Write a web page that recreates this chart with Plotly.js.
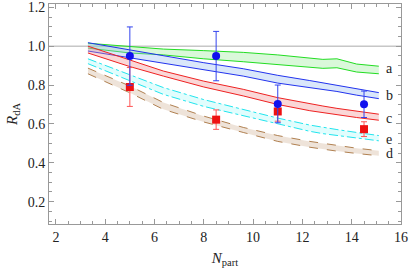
<!DOCTYPE html>
<html>
<head>
<meta charset="utf-8">
<script src="https://cdn.plot.ly/plotly-3.0.1.min.js"></script>
<style>html,body{margin:0;padding:0;background:#fff;}#chart{width:409px;height:273px;}</style>
</head>
<body>
<div id="chart"></div>
<script>
// Band curves (R_dA vs N_part)
const bandX = [3.3, 5, 6.36, 8, 9.6, 11, 12.3, 12.83, 13.4, 14.2, 15.1];
const aUpper = [1.015, 0.997, 0.985, 0.977, 0.968, 0.955, 0.94, 0.932, 0.935, 0.908, 0.897];
const aLower = [0.99, 0.965, 0.955, 0.935, 0.92, 0.905, 0.893, 0.886, 0.889, 0.867, 0.858];
const bUpper = [1.018, 0.98, 0.949, 0.915, 0.884, 0.85, 0.823, 0.812, 0.8, 0.78, 0.761];
const bLower = [0.975, 0.94, 0.915, 0.878, 0.846, 0.81, 0.786, 0.778, 0.767, 0.748, 0.73];
const cUpper = [1.0, 0.93, 0.872, 0.82, 0.778, 0.735, 0.703, 0.692, 0.68, 0.666, 0.65];
const cLower = [0.965, 0.895, 0.846, 0.79, 0.744, 0.7, 0.668, 0.658, 0.647, 0.633, 0.619];
const eUpper = [0.935, 0.855, 0.787, 0.725, 0.675, 0.63, 0.594, 0.582, 0.571, 0.556, 0.54];
const eLower = [0.91, 0.82, 0.752, 0.69, 0.641, 0.598, 0.562, 0.55, 0.54, 0.527, 0.513];
const dUpper = [0.887, 0.795, 0.71, 0.64, 0.582, 0.54, 0.51, 0.5, 0.488, 0.475, 0.462];
const dLower = [0.858, 0.76, 0.675, 0.61, 0.556, 0.51, 0.48, 0.47, 0.46, 0.448, 0.436];

// Data points
const ptX = [5, 8.5, 11, 14.5];
const blueY = [0.949, 0.949, 0.703, 0.701];
const blueErr = [0.15, 0.127, 0.097, 0.068];
const redY = [0.79, 0.622, 0.664, 0.573];
const redErr = [0.1, 0.05, 0.05, 0.038];

// Band labels
const labelText = ['a', 'b', 'c', 'e', 'd'];
const labelY = [0.884, 0.747, 0.629, 0.521, 0.449];
const labelX = 15.3;

const bands = [
  {lo: aLower, hi: aUpper, line: '#22dd22', fill: 'rgba(150,235,150,0.35)', dash: 'solid'},
  {lo: bLower, hi: bUpper, line: '#2233ee', fill: 'rgba(150,185,240,0.35)', dash: 'solid'},
  {lo: cLower, hi: cUpper, line: '#ee2222', fill: 'rgba(240,140,140,0.35)', dash: 'solid'},
  {lo: eLower, hi: eUpper, line: '#22e5ee', fill: 'rgba(170,250,250,0.35)', dash: 'dashdot'},
  {lo: dLower, hi: dUpper, line: '#b08050', fill: 'rgba(205,175,145,0.35)', dash: 'dash'}
];

const traces = [];
bands.forEach(b => {
  traces.push({x: bandX, y: b.lo, mode: 'lines', line: {color: b.line, width: 1, dash: b.dash}, hoverinfo: 'skip'});
  traces.push({x: bandX, y: b.hi, mode: 'lines', fill: 'tonexty', fillcolor: b.fill, line: {color: b.line, width: 1, dash: b.dash}, hoverinfo: 'skip'});
});
traces.push({x: ptX, y: redY, mode: 'markers', marker: {symbol: 'square', size: 8, color: '#ee1111'},
  error_y: {type: 'data', array: redErr, color: '#ff5555', thickness: 1, width: 3}});
traces.push({x: ptX, y: blueY, mode: 'markers', marker: {symbol: 'circle', size: 8, color: '#1111ee'},
  error_y: {type: 'data', array: blueErr, color: '#3344ee', thickness: 1, width: 3}});

const serif = 'Liberation Serif, Times New Roman, serif';
const axisCommon = {
  showgrid: false, zeroline: false, showline: true, linecolor: '#999', linewidth: 1,
  mirror: 'ticks', ticks: 'inside', ticklen: 5, tickcolor: '#999', tickwidth: 1,
  tickfont: {family: serif, size: 14, color: '#222'}
};

const layout = {
  width: 409, height: 273,
  margin: {l: 49, r: 8, t: 4, b: 49},
  paper_bgcolor: '#fff', plot_bgcolor: '#fff',
  showlegend: false,
  xaxis: Object.assign({}, axisCommon, {
    range: [1.72, 16], tickvals: [2, 4, 6, 8, 10, 12, 14, 16],
    minor: {dtick: 0.5, tick0: 0, ticks: 'inside', ticklen: 3, tickcolor: '#999'},
    title: {text: '<i>N</i><sub>part</sub>', font: {family: serif, size: 15, color: '#222'}, standoff: 8}
  }),
  yaxis: Object.assign({}, axisCommon, {
    range: [0.085, 1.217], tickvals: [0.2, 0.4, 0.6, 0.8, 1.0, 1.2], tickformat: '.1f',
    minor: {dtick: 0.05, tick0: 0, ticks: 'inside', ticklen: 3, tickcolor: '#999'},
    title: {text: '<i>R</i><sub>dA</sub>', font: {family: serif, size: 15, color: '#222'}, standoff: 6}
  }),
  shapes: [{type: 'line', xref: 'paper', x0: 0, x1: 1, yref: 'y', y0: 1, y1: 1, line: {color: '#aaa', width: 1}, layer: 'below'}],
  annotations: labelText.map((t, i) => ({x: labelX, y: labelY[i], xref: 'x', yref: 'y', text: t, showarrow: false, xanchor: 'left', yanchor: 'middle', font: {family: serif, size: 14, color: '#222'}}))
};

Plotly.newPlot('chart', traces, layout, {displayModeBar: false, staticPlot: true});
</script>
</body>
</html>
